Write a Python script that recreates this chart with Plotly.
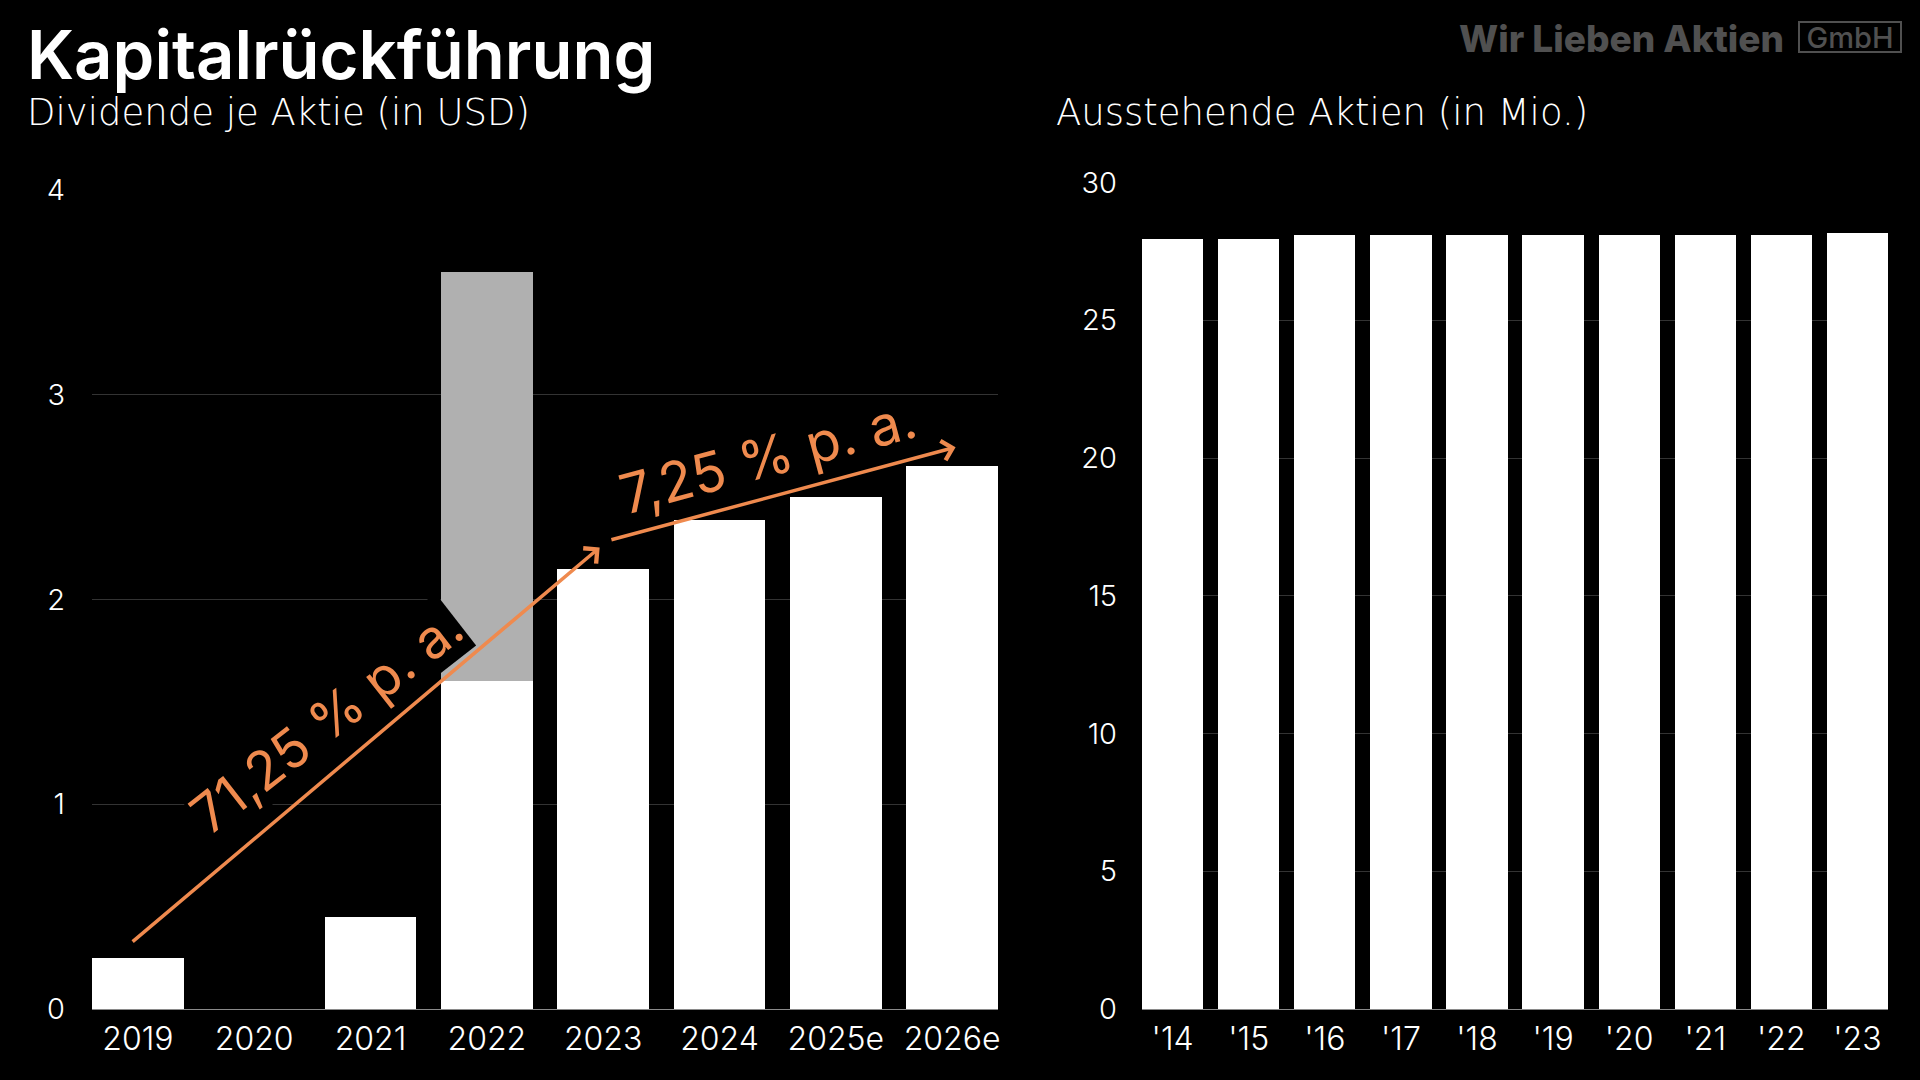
import plotly.graph_objects as go

# ---------------- data ----------------
div_years = ["2019", "2020", "2021", "2022", "2023", "2024", "2025e", "2026e"]
div_regular = [0.25, 0.0, 0.45, 1.60, 2.15, 2.39, 2.50, 2.65]
div_special = [0.0, 0.0, 0.0, 2.00, 0.0, 0.0, 0.0, 0.0]

share_years = ["'14", "'15", "'16", "'17", "'18", "'19", "'20", "'21", "'22", "'23"]
shares_out = [27.95, 27.95, 28.08, 28.08, 28.08, 28.08, 28.08, 28.08, 28.08, 28.15]

cagr_labels = ["71,25 % p. a.", "7,25 % p. a."]

W, H = 1920, 1080
FONT = "Inter"
SUBFONT = "DejaVu Sans"
ORANGE = "#EF8A4E"
GRID = "#333333"


def px_x(p):
    return p / W


def px_y(p):
    return 1 - p / H


w_left = 0.789
w_right = 0.805

fig = go.Figure()
fig.add_trace(go.Bar(x=div_years, y=div_regular, marker_color="white", width=w_left,
                     marker_line_width=0, xaxis="x", yaxis="y", showlegend=False))
fig.add_trace(go.Bar(x=div_years, y=div_special, marker_color="#B0B0B0", width=w_left,
                     marker_line_width=0, xaxis="x", yaxis="y", showlegend=False))
fig.add_trace(go.Bar(x=share_years, y=shares_out, marker_color="white", width=w_right,
                     marker_line_width=0, xaxis="x2", yaxis="y2", showlegend=False))

tickfont_y = dict(family=FONT, size=29, color="white", weight=300)
tickfont_x = dict(family=FONT, size=32, color="white", weight=300)

fig.update_layout(
    width=W, height=H,
    margin=dict(l=0, r=0, t=0, b=0, autoexpand=False),
    paper_bgcolor="black", plot_bgcolor="black",
    barmode="stack",
    xaxis=dict(domain=[px_x(92), px_x(998)], anchor="y", type="category",
               range=[-w_left / 2, len(div_years) - 1 + w_left / 2], automargin=False,
               showgrid=False, showline=True, linecolor="#8A8A8A", linewidth=1,
               ticks="", tickfont=tickfont_x, ticklabelstandoff=2, fixedrange=True),
    yaxis=dict(domain=[px_y(1009), px_y(190)], anchor="x", range=[0, 4], automargin=False,
               tickvals=[0, 1, 2, 3, 4], showgrid=True, gridcolor=GRID, gridwidth=1,
               zeroline=False, showline=False, ticks="", tickfont=tickfont_y,
               ticklabelstandoff=26),
    xaxis2=dict(domain=[px_x(1142), px_x(1888)], anchor="y2", type="category",
                range=[-w_right / 2, len(share_years) - 1 + w_right / 2], automargin=False,
                showgrid=False, showline=True, linecolor="#8A8A8A", linewidth=1,
                ticks="", tickfont=tickfont_x, ticklabelstandoff=2),
    yaxis2=dict(domain=[px_y(1009), px_y(182.5)], anchor="x2", range=[0, 30],
                automargin=False,
                tickvals=[0, 5, 10, 15, 20, 25, 30], showgrid=True, gridcolor=GRID,
                gridwidth=1, zeroline=False, showline=False, ticks="",
                tickfont=tickfont_y, ticklabelstandoff=24),
)

ann = []
# titles
ann.append(dict(text="Kapitalrückführung", xref="paper", yref="paper", x=px_x(25), y=px_y(54),
                xanchor="left", yanchor="middle", showarrow=False,
                font=dict(family=FONT, size=67, color="white", weight=600)))
ann.append(dict(text="Dividende je Aktie (in USD)", xref="paper", yref="paper", x=px_x(25),
                y=px_y(112), xanchor="left", yanchor="middle", showarrow=False,
                font=dict(family=SUBFONT, size=37, color="white", weight=200)))
ann.append(dict(text="Ausstehende Aktien (in Mio.)", xref="paper", yref="paper", x=px_x(1054),
                y=px_y(112), xanchor="left", yanchor="middle", showarrow=False,
                font=dict(family=SUBFONT, size=37, color="white", weight=200)))
# watermark
ann.append(dict(text="Wir Lieben Aktien", xref="paper", yref="paper", x=px_x(1786),
                y=px_y(38), xanchor="right", yanchor="middle", showarrow=False,
                font=dict(family=FONT, size=37, color="#505050", weight=800)))
ann.append(dict(text="GmbH", xref="paper", yref="paper", x=px_x(1850), y=px_y(37),
                xanchor="center", yanchor="middle", showarrow=False,
                width=98, height=26, bordercolor="#505050", borderwidth=2, borderpad=1,
                font=dict(family=FONT, size=29, color="#505050", weight=500)))

# CAGR text labels (left chart, data coords)
ann.append(dict(text=cagr_labels[0], xref="x", yref="y", x=1.62, y=1.41,
                showarrow=False, textangle=-38, bgcolor="black", borderpad=0,
                font=dict(family=FONT, size=54, color=ORANGE, weight=400)))
ann.append(dict(text=cagr_labels[1], xref="x", yref="y", x=5.42, y=2.70,
                showarrow=False, textangle=-15,
                font=dict(family=FONT, size=55, color=ORANGE, weight=400)))
# arrows
ann.append(dict(text="", xref="x", yref="y", axref="x", ayref="y",
                x=3.97, y=2.254, ax=-0.058, ay=0.323, showarrow=True,
                arrowhead=4, arrowsize=1.1, arrowwidth=3.5, arrowcolor=ORANGE,
                standoff=0, startstandoff=0))
ann.append(dict(text="", xref="x", yref="y", axref="x", ayref="y",
                x=7.03, y=2.744, ax=4.058, ay=2.29, showarrow=True,
                arrowhead=4, arrowsize=1.1, arrowwidth=3.5, arrowcolor=ORANGE,
                standoff=0, startstandoff=0))

fig.update_layout(annotations=ann)

fig.write_html("out.html", config={"displayModeBar": False},
               post_script="document.body.style.margin='0';document.body.style.overflow='hidden';")
